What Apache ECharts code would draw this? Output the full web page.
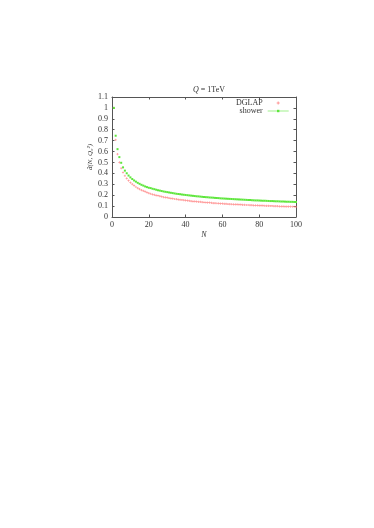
<!DOCTYPE html>
<html>
<head>
<meta charset="utf-8">
<script src="https://cdn.jsdelivr.net/npm/echarts@6/dist/echarts.min.js"></script>
<style>
  html, body { margin: 0; padding: 0; background: #fff; }
  #chart { width: 374px; height: 528px; }
</style>
</head>
<body>
<div id="chart"></div>
<script>
// N = 1..100
const N = [
  1, 2, 3, 4, 5, 6, 7, 8, 9, 10, 11, 12, 13, 14, 15, 16, 17, 18, 19, 20,
  21, 22, 23, 24, 25, 26, 27, 28, 29, 30, 31, 32, 33, 34, 35, 36, 37, 38, 39, 40,
  41, 42, 43, 44, 45, 46, 47, 48, 49, 50, 51, 52, 53, 54, 55, 56, 57, 58, 59, 60,
  61, 62, 63, 64, 65, 66, 67, 68, 69, 70, 71, 72, 73, 74, 75, 76, 77, 78, 79, 80,
  81, 82, 83, 84, 85, 86, 87, 88, 89, 90, 91, 92, 93, 94, 95, 96, 97, 98, 99, 100
];

// DGLAP (red)
const dglap = [
  1.000, 0.707, 0.577, 0.500, 0.447, 0.408, 0.378, 0.354, 0.333, 0.316,
  0.301, 0.287, 0.275, 0.265, 0.255, 0.247, 0.239, 0.232, 0.225, 0.219,
  0.213, 0.208, 0.203, 0.199, 0.195, 0.191, 0.187, 0.183, 0.180, 0.177,
  0.174, 0.171, 0.168, 0.165, 0.163, 0.160, 0.158, 0.156, 0.154, 0.152,
  0.150, 0.148, 0.146, 0.144, 0.143, 0.141, 0.139, 0.138, 0.136, 0.135,
  0.133, 0.132, 0.131, 0.129, 0.128, 0.127, 0.126, 0.125, 0.123, 0.122,
  0.121, 0.120, 0.119, 0.118, 0.117, 0.116, 0.115, 0.115, 0.114, 0.113,
  0.112, 0.111, 0.110, 0.110, 0.109, 0.108, 0.107, 0.107, 0.106, 0.105,
  0.104, 0.104, 0.103, 0.102, 0.102, 0.101, 0.101, 0.100, 0.099, 0.099,
  0.098, 0.098, 0.097, 0.096, 0.096, 0.095, 0.095, 0.094, 0.094, 0.093
];

// shower (green)
const shower = [
  1.000, 0.745, 0.622, 0.549, 0.497, 0.455, 0.425, 0.401, 0.380, 0.363,
  0.348, 0.335, 0.324, 0.313, 0.304, 0.295, 0.288, 0.280, 0.274, 0.268,
  0.265, 0.259, 0.255, 0.250, 0.246, 0.242, 0.238, 0.234, 0.231, 0.228,
  0.225, 0.222, 0.219, 0.216, 0.213, 0.211, 0.209, 0.206, 0.204, 0.202,
  0.200, 0.198, 0.196, 0.194, 0.192, 0.190, 0.189, 0.187, 0.185, 0.184,
  0.182, 0.181, 0.179, 0.178, 0.177, 0.175, 0.174, 0.173, 0.171, 0.170,
  0.169, 0.168, 0.167, 0.166, 0.165, 0.164, 0.163, 0.162, 0.161, 0.160,
  0.159, 0.158, 0.157, 0.156, 0.155, 0.154, 0.153, 0.152, 0.152, 0.151,
  0.150, 0.149, 0.149, 0.148, 0.147, 0.146, 0.146, 0.145, 0.144, 0.144,
  0.143, 0.142, 0.142, 0.141, 0.140, 0.140, 0.139, 0.139, 0.138, 0.137
];

const SERIF = '"Liberation Serif", "DejaVu Serif", serif';
const AXIS_COLOR = '#555';
const TEXT_COLOR = '#333';
const RED = '#ff7a7a';
const GREEN = '#5ee63c';

const chart = echarts.init(document.getElementById('chart'));

const tickStyle = {
  show: true,
  inside: true,
  length: 2.5,
  lineStyle: { color: AXIS_COLOR, width: 1 }
};

const option = {
  backgroundColor: '#fff',
  animation: false,
  title: {
    text: '{i|Q} = 1TeV',
    left: 204,
    top: 81,
    textAlign: 'center',
    textStyle: {
      fontFamily: SERIF,
      fontSize: 8,
      fontWeight: 'normal',
      color: TEXT_COLOR,
      rich: {
        i: { fontFamily: SERIF, fontSize: 8, fontStyle: 'italic', color: TEXT_COLOR }
      }
    }
  },
  legend: {
    orient: 'vertical',
    right: 85,
    top: 99,
    align: 'right',
    itemWidth: 21,
    itemHeight: 3,
    itemGap: 0,
    padding: 0,
    textStyle: { fontFamily: SERIF, fontSize: 8, lineHeight: 7, color: TEXT_COLOR },
    data: [
      { name: 'DGLAP' },
      { name: 'shower', lineStyle: { color: GREEN, width: 0.6, opacity: 1 } }
    ]
  },
  grid: {
    left: 112,
    right: 78,
    top: 97,
    bottom: 311,
    containLabel: false
  },
  xAxis: [
    {
      type: 'value',
      min: 0,
      max: 100,
      interval: 20,
      name: 'N',
      nameLocation: 'middle',
      nameGap: 14,
      nameTextStyle: { fontFamily: SERIF, fontStyle: 'italic', fontSize: 8, color: TEXT_COLOR },
      axisLine: { show: true, onZero: false, lineStyle: { color: AXIS_COLOR, width: 1 } },
      axisTick: tickStyle,
      axisLabel: { fontFamily: SERIF, fontSize: 8, color: TEXT_COLOR, margin: 4 },
      splitLine: { show: false }
    },
    {
      type: 'value',
      position: 'top',
      min: 0,
      max: 100,
      interval: 20,
      axisLine: { show: true, onZero: false, lineStyle: { color: AXIS_COLOR, width: 1 } },
      axisTick: tickStyle,
      axisLabel: { show: false },
      splitLine: { show: false }
    }
  ],
  yAxis: [
    {
      type: 'value',
      min: 0,
      max: 1.1,
      interval: 0.1,
      name: 'd\u0302(N, Q\u2080\u00B2)',
      nameLocation: 'middle',
      nameGap: 16,
      nameTextStyle: { fontFamily: SERIF, fontStyle: 'italic', fontSize: 7, color: TEXT_COLOR },
      axisLine: { show: true, onZero: false, lineStyle: { color: AXIS_COLOR, width: 1 } },
      axisTick: tickStyle,
      axisLabel: {
        fontFamily: SERIF,
        fontSize: 8,
        color: TEXT_COLOR,
        margin: 4,
        formatter: (v) => String(+v.toFixed(1))
      },
      splitLine: { show: false }
    },
    {
      type: 'value',
      position: 'right',
      min: 0,
      max: 1.1,
      interval: 0.1,
      axisLine: { show: true, onZero: false, lineStyle: { color: AXIS_COLOR, width: 1 } },
      axisTick: tickStyle,
      axisLabel: { show: false },
      splitLine: { show: false }
    }
  ],
  series: [
    {
      name: 'DGLAP',
      type: 'scatter',
      symbol: 'path://M1,0H2V1H3V2H2V3H1V2H0V1H1Z',
      symbolSize: 2.2,
      itemStyle: { color: RED },
      data: N.map((n, i) => [n, dglap[i]]),
      z: 2
    },
    {
      name: 'shower',
      type: 'line',
      symbol: 'rect',
      symbolSize: 2,
      showAllSymbol: true,
      lineStyle: { color: GREEN, width: 0.6, opacity: 0 },
      itemStyle: { color: GREEN },
      data: N.map((n, i) => [n, shower[i]]),
      z: 3
    }
  ]
};

chart.setOption(option);
</script>
</body>
</html>
